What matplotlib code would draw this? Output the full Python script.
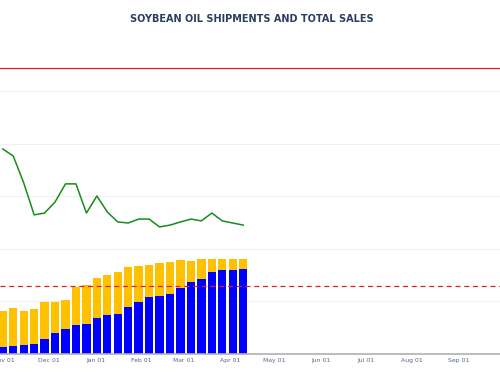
import pandas as pd
import matplotlib
matplotlib.use('Agg')
import matplotlib.pyplot as plt
import matplotlib.dates as mdates

# Weekly report dates
weeks = pd.date_range('2024-10-31', periods=24, freq='7D')

# Accumulated shipments (blue) and total commitments (blue + yellow)
shipments = [27, 30, 34, 38, 57, 80, 95, 110, 114, 137, 149, 152,
             179, 198, 217, 221, 229, 251, 274, 286, 312, 320, 320, 324]
total_sales = [164, 175, 164, 171, 198, 198, 206, 255, 263, 290, 301, 312,
               331, 335, 339, 347, 350, 358, 354, 362, 362, 362, 362, 362]

# Green line
sales_pace = [781, 754, 652, 530, 537, 579, 648, 648, 537, 602, 541, 503,
              499, 514, 514, 484, 491, 503, 514, 507, 537, 507, 499, 491]

# Reference levels
usda_target = 1090
prior_level = 259

outstanding = [t - s for t, s in zip(total_sales, shipments)]

fig = plt.figure(figsize=(5, 3.83), dpi=100)
ax = fig.add_axes([0, 29 / 383, 1, 309 / 383])

bar_w = pd.Timedelta(days=5.6)
ax.bar(weeks, shipments, width=bar_w, color='#0000ff', zorder=2)
ax.bar(weeks, outstanding, bottom=shipments, width=bar_w,
       color='#ffc000', zorder=2)

ax.plot(weeks, sales_pace, color='#1a8a1a', linewidth=1.1, zorder=3)

ax.axhline(usda_target, color='#e02020', linewidth=0.9, zorder=3)
ax.axhline(prior_level, color='#e02020', linewidth=0.9,
           linestyle=(0, (4, 3)), zorder=3)

ax.set_xlim(pd.Timestamp('2024-10-29 03:00'), pd.Timestamp('2025-09-29'))
ax.set_ylim(0, 1177)

ax.set_yticks(range(0, 1177, 200))
ax.set_yticklabels([])
ax.tick_params(axis='y', length=0)
ax.grid(axis='y', color='#f0f0f0', linewidth=0.8, zorder=0)
ax.set_axisbelow(True)

ax.xaxis.set_major_locator(mdates.MonthLocator(bymonthday=1))
ax.xaxis.set_major_formatter(mdates.DateFormatter('%b %d'))
ax.tick_params(axis='x', length=0, pad=3, labelsize=4.4, colors='#506784')

for side in ['top', 'right', 'left']:
    ax.spines[side].set_visible(False)
ax.spines['bottom'].set_color('#b0b0b0')
ax.spines['bottom'].set_linewidth(1.2)

fig.text(0.503, 1 - 19 / 383, 'SOYBEAN OIL SHIPMENTS AND TOTAL SALES',
         ha='center', va='center', fontsize=7, fontweight='bold',
         color='#2a3f5f')

fig.savefig('out.png', dpi=100)
